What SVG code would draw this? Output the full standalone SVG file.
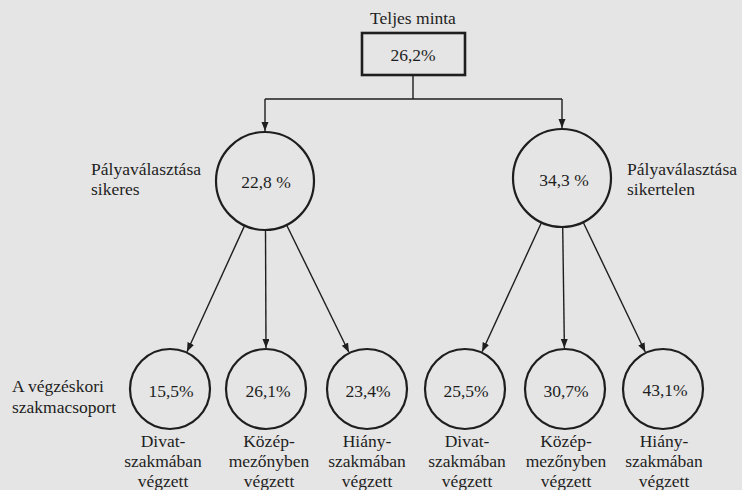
<svg xmlns="http://www.w3.org/2000/svg" width="742" height="490" viewBox="0 0 742 490" font-family="'Liberation Serif', 'DejaVu Serif', serif" font-size="17.5">
<style>
text{fill:#1e1e1e}
.c{text-anchor:middle}
.node{fill:none;stroke:#1e1e1e;stroke-width:2.2}
.box{fill:none;stroke:#1e1e1e;stroke-width:2.6}
.conn{fill:none;stroke:#1e1e1e;stroke-width:1.4}
</style>
<defs>
<marker id="arr" markerUnits="userSpaceOnUse" markerWidth="10" markerHeight="8" refX="9" refY="3.5" orient="auto">
<path d="M0,0 L9,3.5 L0,7 z" fill="#1e1e1e"/>
</marker>
</defs>
<rect width="742" height="490" fill="#e5e5e5"/>
<g id="connectors">
<path class="conn" d="M413,75 V99 M265,99 H562"/>
<path class="conn" d="M265,99 V131" marker-end="url(#arr)"/>
<path class="conn" d="M562,99 V128" marker-end="url(#arr)"/>
<path class="conn" d="M244.6,225.6 L187,351.7" marker-end="url(#arr)"/>
<path class="conn" d="M265.5,230 L266,348" marker-end="url(#arr)"/>
<path class="conn" d="M286.6,225 L348.9,352.2" marker-end="url(#arr)"/>
<path class="conn" d="M541.5,222.5 L482.1,351.7" marker-end="url(#arr)"/>
<path class="conn" d="M562.7,227 L564.4,348" marker-end="url(#arr)"/>
<path class="conn" d="M583.2,222.2 L645.3,352" marker-end="url(#arr)"/>
</g>
<g id="teljes">
<text class="c" x="413" y="24">Teljes minta</text>
<rect class="box" x="362" y="33" width="103" height="42"/>
<text class="c" x="413" y="61">26,2%</text>
</g>
<g id="sikeres">
<circle class="node" cx="265" cy="181" r="49"/>
<text class="c" x="266" y="188">22,8 %</text>
<text x="91" y="175" textLength="110" lengthAdjust="spacingAndGlyphs">Pályaválasztása</text>
<text x="91" y="195">sikeres</text>
</g>
<g id="sikertelen">
<circle class="node" cx="562" cy="178" r="49"/>
<text class="c" x="564" y="186">34,3 %</text>
<text x="627" y="175" textLength="110" lengthAdjust="spacingAndGlyphs">Pályaválasztása</text>
<text x="627" y="195">sikertelen</text>
</g>
<g id="csoport-label">
<text x="12" y="392">A végzéskori</text>
<text x="12" y="413">szakmacsoport</text>
</g>
<g id="s1">
<circle class="node" cx="170" cy="389" r="40"/>
<text class="c" x="171" y="397">15,5%</text>
<text class="c" x="163" y="447">Divat-</text>
<text class="c" x="163" y="467">szakmában</text>
<text class="c" x="163" y="487">végzett</text>
</g>
<g id="s2">
<circle class="node" cx="266" cy="389" r="40"/>
<text class="c" x="268" y="397">26,1%</text>
<text class="c" x="269" y="447">Közép-</text>
<text class="c" x="269" y="467">mezőnyben</text>
<text class="c" x="269" y="487">végzett</text>
</g>
<g id="s3">
<circle class="node" cx="367" cy="389" r="40"/>
<text class="c" x="368" y="397">23,4%</text>
<text class="c" x="367" y="447">Hiány-</text>
<text class="c" x="367" y="467">szakmában</text>
<text class="c" x="367" y="487">végzett</text>
</g>
<g id="s4">
<circle class="node" cx="465" cy="389" r="40"/>
<text class="c" x="466" y="397">25,5%</text>
<text class="c" x="467" y="447">Divat-</text>
<text class="c" x="467" y="467">szakmában</text>
<text class="c" x="467" y="487">végzett</text>
</g>
<g id="s5">
<circle class="node" cx="565" cy="389" r="40"/>
<text class="c" x="566" y="397">30,7%</text>
<text class="c" x="566" y="447">Közép-</text>
<text class="c" x="566" y="467">mezőnyben</text>
<text class="c" x="566" y="487">végzett</text>
</g>
<g id="s6">
<circle class="node" cx="663" cy="389" r="40"/>
<text class="c" x="665" y="396">43,1%</text>
<text class="c" x="664" y="447">Hiány-</text>
<text class="c" x="664" y="467">szakmában</text>
<text class="c" x="664" y="487">végzett</text>
</g>
</svg>
